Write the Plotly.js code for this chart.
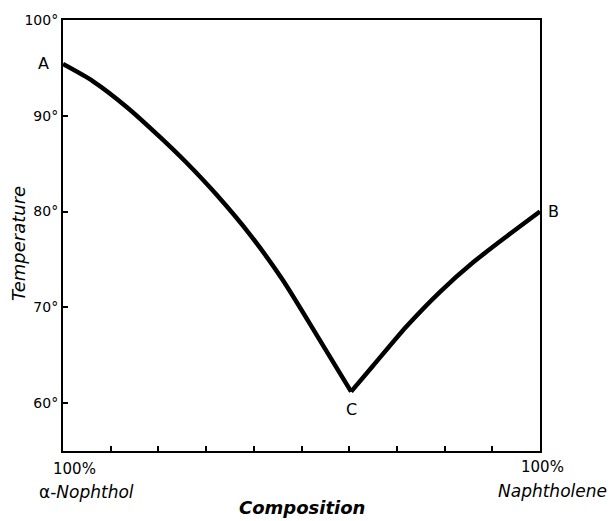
<!DOCTYPE html>
<html>
<head>
<meta charset="utf-8">
<script src="https://cdn.plot.ly/plotly-3.0.1.min.js"></script>
<style>html,body{margin:0;padding:0;background:#fff;}#chart{width:614px;height:521px;}</style>
</head>
<body>
<div id="chart"></div>
<script>
// Liquidus branch A-C (alpha-naphthol side)
const compAC = [0, 6.3, 13.4, 20.3, 25.7, 32.3, 39.2, 46, 53.2, 60.4];
const tempAC = [95.4, 93.6, 90.9, 87.8, 85.2, 81.7, 77.6, 72.9, 67.1, 61.2];
// Liquidus branch C-B (naphthalene side)
const compCB = [60.4, 65, 72, 79, 86, 93, 100];
const tempCB = [61.2, 63.9, 68, 71.6, 74.7, 77.4, 80];

const yTickVals = [60, 70, 80, 90, 100];
const yTickText = ['60°', '70°', '80°', '90°', '100°'];
const xMinorTicks = [10, 20, 30, 40, 50, 60, 70, 80, 90];

const pointNames = ['A', 'B', 'C'];
const pointComp = [0, 100, 60.4];
const pointTemp = [95.4, 80, 61.2];

const endPct = ['100%', '100%'];
const endPrefix = ['α-', ''];
const endNames = ['Nophthol', 'Naphtholene'];
const endComp = [0, 100];

const font = 'DejaVu Sans, sans-serif';

const traces = [
  {x: compAC, y: tempAC, mode: 'lines', line: {color: '#000', width: 4.5, shape: 'spline', smoothing: 0.7}, hoverinfo: 'skip'},
  {x: compCB, y: tempCB, mode: 'lines', line: {color: '#000', width: 4.5, shape: 'spline', smoothing: 0.7}, hoverinfo: 'skip'}
];

const ann = [];
// point labels
ann.push({x: pointComp[0], y: pointTemp[0], text: pointNames[0], showarrow: false, xanchor: 'right', xshift: -12, yshift: 1, font: {family: font, size: 16, color: '#000'}});
ann.push({x: pointComp[1], y: pointTemp[1], text: pointNames[1], showarrow: false, xanchor: 'left', xshift: 6, yshift: 0, font: {family: font, size: 16, color: '#000'}});
ann.push({x: pointComp[2], y: pointTemp[2], text: pointNames[2], showarrow: false, yanchor: 'top', yshift: -6, font: {family: font, size: 16, color: '#000'}});
// composition end labels
ann.push({x: endComp[0], y: 0, yref: 'paper', text: endPct[0], showarrow: false, xanchor: 'center', yanchor: 'top', xshift: 11, yshift: -7, font: {family: font, size: 15, color: '#000'}});
ann.push({x: endComp[0], y: 0, yref: 'paper', text: endPrefix[0] + '<i>' + endNames[0] + '</i>', showarrow: false, xanchor: 'center', yanchor: 'top', xshift: 23, yshift: -29, font: {family: font, size: 17, color: '#000'}});
ann.push({x: endComp[1], y: 0, yref: 'paper', text: endPct[1], showarrow: false, xanchor: 'center', yanchor: 'top', xshift: 2, yshift: -5, font: {family: font, size: 15, color: '#000'}});
ann.push({x: endComp[1], y: 0, yref: 'paper', text: endPrefix[1] + '<i>' + endNames[1] + '</i>', showarrow: false, xanchor: 'center', yanchor: 'top', xshift: 12, yshift: -28, font: {family: font, size: 17, color: '#000'}});
// axis titles
ann.push({x: 0.5, xref: 'paper', y: 0, yref: 'paper', text: '<b><i>Composition</i></b>', showarrow: false, yanchor: 'top', yshift: -44, font: {family: font, size: 18, color: '#000'}});
ann.push({x: 0, xref: 'paper', y: 0.48, yref: 'paper', text: '<i>Temperature</i>', showarrow: false, textangle: -90, xanchor: 'center', xshift: -45, font: {family: font, size: 18, color: '#000'}});

const layout = {
  width: 614, height: 521,
  margin: {l: 63, r: 74, t: 20, b: 70},
  paper_bgcolor: '#fff', plot_bgcolor: '#fff',
  showlegend: false,
  xaxis: {
    range: [0, 100], showgrid: false, zeroline: false,
    showline: true, linecolor: '#000', linewidth: 2, mirror: true,
    tickmode: 'array', tickvals: xMinorTicks, ticktext: xMinorTicks.map(() => ''),
    ticks: 'inside', ticklen: 5, tickwidth: 2, tickcolor: '#000'
  },
  yaxis: {
    range: [55, 100], showgrid: false, zeroline: false,
    showline: true, linecolor: '#000', linewidth: 2, mirror: true,
    tickmode: 'array', tickvals: yTickVals, ticktext: yTickText,
    ticks: 'inside', ticklen: 5, tickwidth: 2, tickcolor: '#000',
    tickfont: {family: font, size: 14, color: '#000'}
  },
  annotations: ann
};

Plotly.newPlot('chart', traces, layout, {displayModeBar: false, staticPlot: true});
</script>
</body>
</html>
